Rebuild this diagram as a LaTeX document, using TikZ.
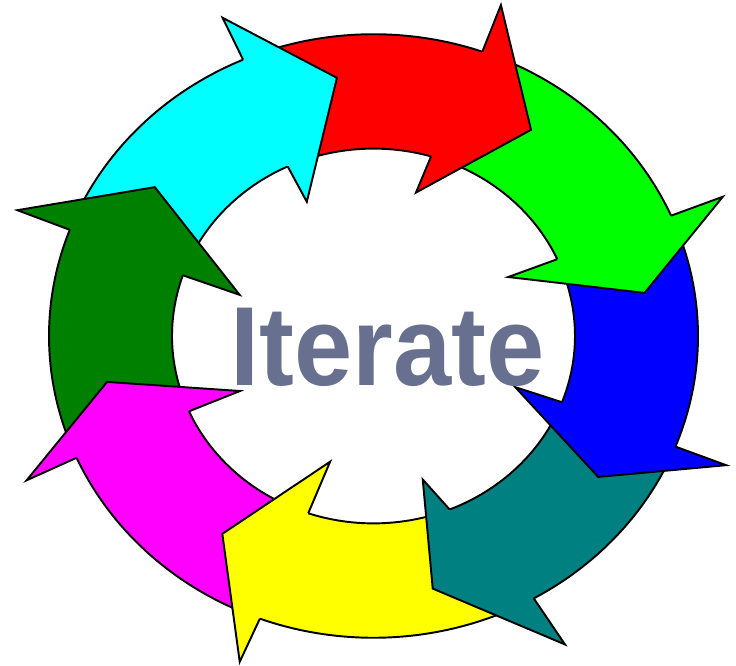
\documentclass[tikz,border=0pt]{standalone}
\usepackage{fontspec}
\setmainfont{Liberation Sans}
\usepackage{tikz}
\definecolor{ringred}{RGB}{255,0,0}
\definecolor{ringgreen}{RGB}{0,255,0}
\definecolor{ringblue}{RGB}{0,0,255}
\definecolor{ringteal}{RGB}{0,128,128}
\definecolor{ringyellow}{RGB}{255,255,0}
\definecolor{ringmagenta}{RGB}{255,0,255}
\definecolor{ringdarkgreen}{RGB}{0,128,0}
\definecolor{ringcyan}{RGB}{0,255,255}
\definecolor{slategray}{RGB}{104,112,143}

\def\arrowlist{%
ringred/110.7/112.2/70.4/73.4/70.3/378/74.6/160/54.6/272,
ringgreen/67.4/70.4/23.5/24.2/23.2/380/25.2/149/9.7/275,
ringblue/20.5/21.2/-21.5/-20.7/-21.5/379/-21.2/152/-34.0/271,
ringteal/-24.5/-23.7/-60.4/-67.8/-60.0/383/-72.3/162/-77.7/278,
ringyellow/-63.4/-70.8/-110.5/-108.9/-110.9/375/-107.8/142/-125.4/261,
ringmagenta/-113.5/-111.9/-156.2/-156.3/-155.9/380/-156.1/146/-169.5/271,
ringdarkgreen/-159.2/-159.3/-200.6/-198.9/-200.8/381/-198.3/141/-216.2/271,
ringcyan/-203.6/-201.9/-246.3/-244.8/-246.2/374/-245.2/159/-262.5/280}

\begin{document}
\begin{tikzpicture}[x=0.2mm, y=0.2mm, line width=1.1pt, line join=miter, ring/.style={yscale=0.93}, label/.style={font=\fontsize{64}{64}\selectfont\bfseries, text=slategray, anchor=base, xscale=0.93}]
\useasboundingbox (-373.5,-329) rectangle (362.5,336);
\begin{scope}[ring]
% bands first
\foreach \col/\tailo/\taili/\nout/\nin/\bouta/\boutr/\bina/\binr/\tipa/\tipr in \arrowlist {
  \fill[\col] (\tailo:324.5) arc[start angle=\tailo, end angle=\nout-3, radius=324.5]
    -- (\nin-3:201.5) arc[start angle=\nin-3, end angle=\taili, radius=201.5] -- cycle;
  \draw (\tailo:324.5) arc[start angle=\tailo, end angle=\nout-3, radius=324.5];
  \draw (\taili:201.5) arc[start angle=\taili, end angle=\nin-3, radius=201.5];
}
% then the heads on top
\foreach \col/\tailo/\taili/\nout/\nin/\bouta/\boutr/\bina/\binr/\tipa/\tipr in \arrowlist {
  \fill[\col] (\nin:201.5) -- (\bina:\binr) -- (\tipa:\tipr) -- (\bouta:\boutr) -- (\nout:324.5) -- cycle;
  \draw (\nin:201.5) -- (\bina:\binr) -- (\tipa:\tipr) -- (\bouta:\boutr) -- (\nout:324.5);
}
\end{scope}
\node[label] (title) at (14,-50) {Iterate};
\end{tikzpicture}
\end{document}
